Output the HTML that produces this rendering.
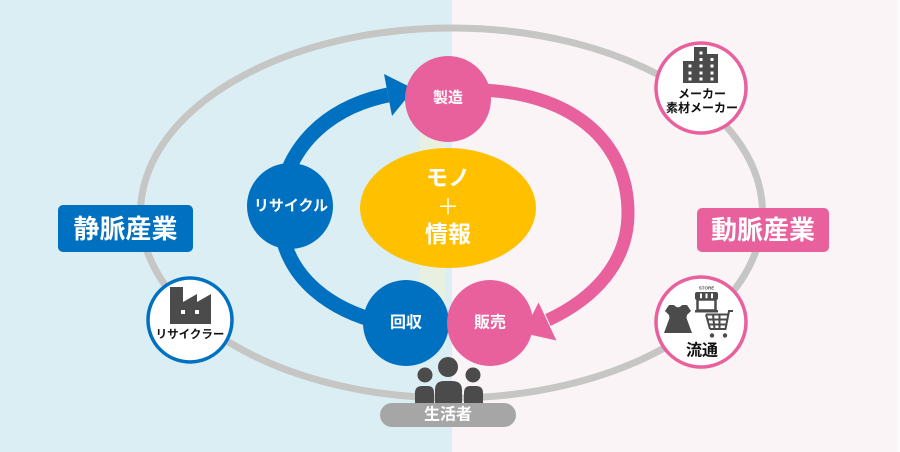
<!DOCTYPE html>
<html><head><meta charset="utf-8">
<style>
html,body{margin:0;padding:0;width:900px;height:452px;overflow:hidden;background:#fbf4f7;}
svg{display:block;}
text{font-family:"Liberation Sans","Noto Sans CJK JP",sans-serif;font-weight:bold;}
</style></head>
<body>
<svg width="900" height="452" viewBox="0 0 900 452" xmlns="http://www.w3.org/2000/svg">
  <!-- backgrounds -->
  <rect x="0" y="0" width="452" height="452" fill="#dbeef4"/>
  <rect x="452" y="0" width="448" height="452" fill="#fbf4f7"/>
  <rect x="897" y="0" width="3" height="452" fill="#fdfafb"/>
  <rect x="420" y="130" width="26" height="215" fill="#e8f0e2"/>

  <!-- outer gray ellipse -->
  <ellipse cx="451.5" cy="213" rx="311" ry="185" fill="none" stroke="#c6c6c4" stroke-width="7"/>

  <!-- blue arrow -->
  <path d="M 412 328 C 330 318, 280 275, 280 213 C 280 155, 322 108, 388 95" fill="none" stroke="#0070c0" stroke-width="15"/>
  <polygon points="384,74 392,116 414,89" fill="#0070c0"/>

  <!-- pink arrow -->
  <path d="M 478 90 C 570 92, 628 140, 628 213 C 628 262, 595 298, 548 320" fill="none" stroke="#e8609c" stroke-width="13"/>
  <polygon points="538.6,302.5 556.4,340.5 523,333" fill="#e8609c"/>

  <!-- center yellow ellipse -->
  <ellipse cx="448" cy="208" rx="88" ry="60" fill="#ffc000"/>
  <text x="448" y="178" font-size="22" fill="#fff" text-anchor="middle" dominant-baseline="central">モノ</text>
  <text x="448" y="207" font-size="22" fill="#fff" text-anchor="middle" dominant-baseline="central" style="font-weight:normal">＋</text>
  <text x="448" y="234" font-size="23" fill="#fff" text-anchor="middle" dominant-baseline="central">情報</text>

  <!-- cycle circles -->
  <circle cx="448" cy="99" r="43" fill="#e8609c"/>
  <text x="448" y="98" font-size="15" fill="#fff" text-anchor="middle" dominant-baseline="central">製造</text>

  <circle cx="290" cy="206" r="43" fill="#0070c0"/>
  <text x="291" y="206" font-size="15" fill="#fff" text-anchor="middle" dominant-baseline="central">リサイクル</text>

  <circle cx="406" cy="323" r="43" fill="#0070c0"/>
  <text x="406" y="323" font-size="16" fill="#fff" text-anchor="middle" dominant-baseline="central">回収</text>

  <circle cx="490" cy="323" r="43" fill="#e8609c"/>
  <text x="490" y="323" font-size="16" fill="#fff" text-anchor="middle" dominant-baseline="central">販売</text>

  <!-- side labels -->
  <rect x="58" y="205" width="135" height="47" rx="5" fill="#0070c0"/>
  <text x="125.5" y="229" font-size="26" fill="#fff" text-anchor="middle" dominant-baseline="central">静脈産業</text>

  <rect x="697" y="208" width="132" height="44" rx="5" fill="#e8609c"/>
  <text x="763" y="230" font-size="26" fill="#fff" text-anchor="middle" dominant-baseline="central">動脈産業</text>

  <!-- maker circle -->
  <circle cx="701" cy="88" r="45" fill="#fff" stroke="#e8609c" stroke-width="3.5"/>
  <g fill="#4b4b4b">
    <rect x="683" y="61" width="12" height="22"/>
    <rect x="694" y="47" width="13" height="36"/>
    <rect x="706" y="54" width="12" height="29"/>
  </g>
  <g fill="#fff">
    <rect x="699.5" y="51.5" width="3" height="3"/>
    <rect x="688.5" y="64.5" width="3" height="3"/>
    <rect x="699.5" y="58" width="3" height="3"/>
    <rect x="710.5" y="58" width="3" height="3"/>
    <rect x="699.5" y="64.5" width="3" height="3"/>
    <rect x="710.5" y="64.5" width="3" height="3"/>
    <rect x="688.5" y="71.5" width="3" height="3"/>
    <rect x="699.5" y="71.5" width="3" height="3"/>
    <rect x="710.5" y="71.5" width="3" height="3"/>
    <rect x="688.5" y="77.5" width="3" height="3"/>
    <rect x="699.5" y="77.5" width="3" height="3"/>
    <rect x="710.5" y="77.5" width="3" height="3"/>
  </g>
  <text x="702" y="94" font-size="12" fill="#111" text-anchor="middle" dominant-baseline="central">メーカー</text>
  <text x="702" y="108" font-size="12" fill="#111" text-anchor="middle" dominant-baseline="central">素材メーカー</text>

  <!-- distribution circle -->
  <circle cx="701" cy="322" r="45" fill="#fff" stroke="#e8609c" stroke-width="3.5"/>
  <!-- dress -->
  <path d="M669 305 L674 305 Q678 309.5 682 305 L687 305 L691 311 L687 315 L686.5 318 L692 333 L664 333 L669.5 318 L669 315 L665 311 Z" fill="#4b4b4b"/>
  <!-- store -->
  <text x="706.5" y="288" font-size="4.5" fill="#4b4b4b" text-anchor="middle" dominant-baseline="central" style="font-family:'Liberation Sans',sans-serif">STORE</text>
  <rect x="695" y="292" width="23" height="8" rx="2" fill="#4b4b4b"/>
  <rect x="700" y="293.5" width="2" height="5" fill="#fff"/>
  <rect x="705.5" y="293.5" width="2" height="5" fill="#fff"/>
  <rect x="711" y="293.5" width="2" height="5" fill="#fff"/>
  <rect x="697.5" y="299.5" width="18" height="11" fill="none" stroke="#4b4b4b" stroke-width="2.5"/>
  <rect x="695" y="310" width="23" height="2.5" fill="#4b4b4b"/>
  <!-- cart -->
  <g fill="none" stroke="#4b4b4b" stroke-width="2">
    <path d="M733 311 L729 311 L725.5 329 L710 329"/>
    <path d="M706 314.5 L728.5 314.5 M707.5 319.5 L727.5 319.5 M709 324.5 L726.5 324.5 M706 314.5 L710 329"/>
    <path d="M713 314.5 L714.5 329 M719.5 314.5 L719.5 329"/>
  </g>
  <circle cx="712" cy="335.5" r="2.2" fill="#4b4b4b"/>
  <circle cx="725" cy="335.5" r="2.2" fill="#4b4b4b"/>
  <text x="702" y="351" font-size="16" fill="#111" text-anchor="middle" dominant-baseline="central">流通</text>

  <!-- recycler circle -->
  <circle cx="190" cy="320" r="42" fill="#fff" stroke="#0070c0" stroke-width="3.5"/>
  <polygon points="170,324 170,287 183,287 183,302 197,294 197,302 211,294 211,324" fill="#4b4b4b"/>
  <rect x="181" y="310" width="4" height="4" fill="#fff"/>
  <rect x="195" y="310" width="4" height="4" fill="#fff"/>
  <text x="190" y="335" font-size="11.5" fill="#111" text-anchor="middle" dominant-baseline="central">リサイクラー</text>

  <!-- people -->
  <g fill="#4b4b4b">
    <circle cx="425" cy="375" r="7.5"/>
    <path d="M415 403 L415 393 Q415 386 422 386 L428 386 Q434 386 434 393 L434 403 Z"/>
    <circle cx="473" cy="375" r="7.5"/>
    <path d="M464 403 L464 393 Q464 386 470 386 L476 386 Q483 386 483 393 L483 403 Z"/>
    <circle cx="448" cy="367" r="10"/>
    <path d="M435 403 L435 390 Q435 381 444 381 L452 381 Q462 381 462 390 L462 403 Z"/>
  </g>

  <!-- consumer pill -->
  <rect x="380" y="403" width="136" height="24" rx="12" fill="#a6a6a6"/>
  <text x="448" y="415" font-size="16" fill="#fff" text-anchor="middle" dominant-baseline="central">生活者</text>
</svg>
</body></html>
